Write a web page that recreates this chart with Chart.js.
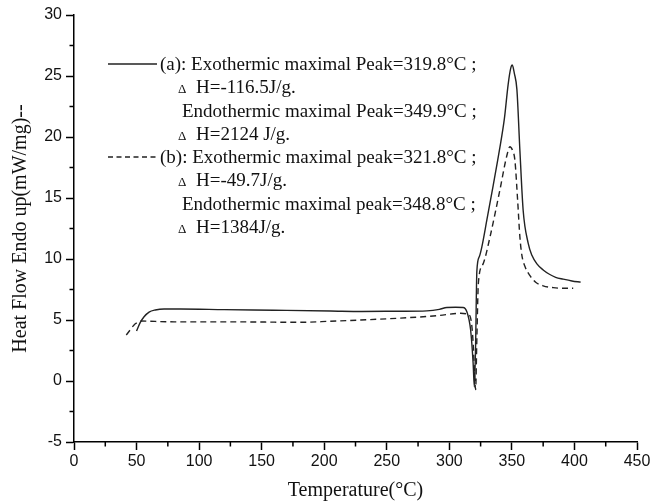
<!DOCTYPE html>
<html>
<head>
<meta charset="utf-8">
<script src="https://cdn.jsdelivr.net/npm/chart.js@4/dist/chart.umd.min.js"></script>
<style>
html,body{margin:0;padding:0;background:#fff;}
#wrap{width:654px;height:504px;position:relative;}
</style>
</head>
<body>
<div id="wrap"><canvas id="c" width="654" height="504"></canvas></div>
<script>
// ---- data ----
const tempA = [50, 53, 56, 60, 65, 72, 85, 120, 160, 205, 230, 260, 282, 292, 298, 305, 311, 314, 317, 319, 320, 321, 322, 324, 326, 330, 335, 340, 344, 347, 349, 350.3, 352, 354, 356.4, 359, 363, 366, 370, 375, 380, 385, 391, 398, 405];
const flowA = [4.1, 4.8, 5.27, 5.65, 5.82, 5.9, 5.9, 5.85, 5.8, 5.74, 5.7, 5.72, 5.75, 5.87, 6.03, 6.04, 6.03, 5.68, 4.2, 1.5, -0.5, 3.0, 9.0, 10.2, 11.0, 13.2, 16.0, 18.9, 21.5, 24.3, 25.6, 25.9, 25.2, 23.9, 18.9, 14.0, 11.3, 10.3, 9.6, 9.1, 8.75, 8.5, 8.35, 8.2, 8.1];

const tempB = [41.8, 45, 48, 51, 54, 60, 80, 125, 181, 205, 229, 260, 290, 309, 314, 316.5, 318, 319.2, 320.2, 321, 322, 323.2, 327, 332.5, 340.5, 345.8, 348.4, 350.5, 352.4, 354.6, 356.4, 358, 360.4, 364, 369, 375, 383, 391, 399];
const flowB = [3.77, 4.2, 4.6, 4.8, 4.92, 4.9, 4.85, 4.85, 4.81, 4.9, 5.0, 5.15, 5.35, 5.55, 5.5, 5.33, 4.5, 2.8, 0.5, -0.7, 3.5, 8.0, 9.6, 11.8, 15.7, 18.4, 19.2, 18.9, 18.1, 14.8, 11.8, 10.3, 9.4, 8.7, 8.1, 7.8, 7.65, 7.6, 7.6];

const xTitle = 'Temperature(°C)';
const yTitle = 'Heat Flow Endo up(mW/mg)--';

const legendA = ['(a): Exothermic maximal Peak=319.8°C ;', 'H=-116.5J/g.', 'Endothermic maximal Peak=349.9°C ;', 'H=2124 J/g.'];
const legendB = ['(b): Exothermic maximal peak=321.8°C ;', 'H=-49.7J/g.', 'Endothermic maximal peak=348.8°C ;', 'H=1384J/g.'];
const deltaSym = 'Δ';

const toPts = (xs, ys) => xs.map((x, i) => ({x: x, y: ys[i]}));

const minorTicks = {
  id: 'minorTicks',
  afterDraw(chart) {
    const ctx = chart.ctx;
    const xs = chart.scales.x, ys = chart.scales.y;
    ctx.save();
    ctx.strokeStyle = '#000';
    ctx.lineWidth = 1.5;
    ctx.beginPath();
    for (let v = 25; v < 450; v += 50) {
      const px = xs.getPixelForValue(v);
      ctx.moveTo(px, ys.bottom);
      ctx.lineTo(px, ys.bottom + 4.5);
    }
    for (let v = -2.5; v < 30; v += 5) {
      const py = ys.getPixelForValue(v);
      ctx.moveTo(xs.left, py);
      ctx.lineTo(xs.left - 4.5, py);
    }
    ctx.stroke();
    ctx.restore();
  }
};

const legendPlugin = {
  id: 'customLegend',
  afterDraw(chart) {
    const ctx = chart.ctx;
    ctx.save();
    ctx.fillStyle = '#111';
    ctx.strokeStyle = '#222';
    ctx.lineWidth = 1.4;
    ctx.textBaseline = 'middle';
    ctx.textAlign = 'left';
    const rowH = 23.5;
    const groups = [{rows: legendA, y0: 64, dash: []}, {rows: legendB, y0: 157, dash: [5, 3.5]}];
    groups.forEach(g => {
      ctx.setLineDash(g.dash);
      ctx.beginPath();
      ctx.moveTo(108, g.y0);
      ctx.lineTo(157, g.y0);
      ctx.stroke();
      ctx.setLineDash([]);
      g.rows.forEach((t, i) => {
        const y = g.y0 + i * rowH + 1;
        if (i === 0) {
          ctx.font = '19px "Liberation Serif"';
          ctx.fillText(t, 160, y);
        } else if (i === 2) {
          ctx.font = '19px "Liberation Serif"';
          ctx.fillText(t, 182, y);
        } else {
          ctx.font = '13px "Liberation Serif"';
          ctx.fillText(deltaSym, 178, y + 1);
          ctx.font = '19px "Liberation Serif"';
          ctx.fillText(t, 196, y);
        }
      });
    });
    ctx.restore();
  }
};

new Chart(document.getElementById('c'), {
  type: 'scatter',
  data: {
    datasets: [
      {label: '(a)', data: toPts(tempA, flowA), showLine: true, borderColor: '#222', borderWidth: 1.4, pointRadius: 0, cubicInterpolationMode: 'monotone', fill: false},
      {label: '(b)', data: toPts(tempB, flowB), showLine: true, borderColor: '#222', borderWidth: 1.4, borderDash: [6, 4], pointRadius: 0, cubicInterpolationMode: 'monotone', fill: false}
    ]
  },
  options: {
    responsive: false,
    animation: false,
    devicePixelRatio: 1,
    layout: {padding: {left: 0, top: 15, right: 17, bottom: 0}},
    plugins: {legend: {display: false}, tooltip: {enabled: false}},
    scales: {
      x: {
        type: 'linear', min: 0, max: 450,
        afterFit: s => { s.height = 62; },
        ticks: {stepSize: 50, color: '#111', font: {family: '"Liberation Sans"', size: 16}, padding: 2, maxRotation: 0},
        grid: {display: true, drawOnChartArea: false, drawTicks: true, tickLength: 8, tickColor: '#000', tickWidth: 1.5},
        border: {display: true, color: '#000', width: 1.5},
        title: {display: true, text: xTitle, color: '#111', font: {family: '"Liberation Serif"', size: 20}, padding: {top: 0, bottom: 1}}
      },
      y: {
        type: 'linear', min: -5, max: 30,
        afterFit: s => { s.width = 74; },
        ticks: {stepSize: 5, color: '#111', font: {family: '"Liberation Sans"', size: 16}, padding: 4},
        grid: {display: true, drawOnChartArea: false, drawTicks: true, tickLength: 8, tickColor: '#000', tickWidth: 1.5},
        border: {display: true, color: '#000', width: 1.5},
        title: {display: true, text: yTitle, color: '#111', font: {family: '"Liberation Serif"', size: 20}, padding: {top: 9, bottom: 0}}
      }
    }
  },
  plugins: [minorTicks, legendPlugin]
});
</script>
</body>
</html>
